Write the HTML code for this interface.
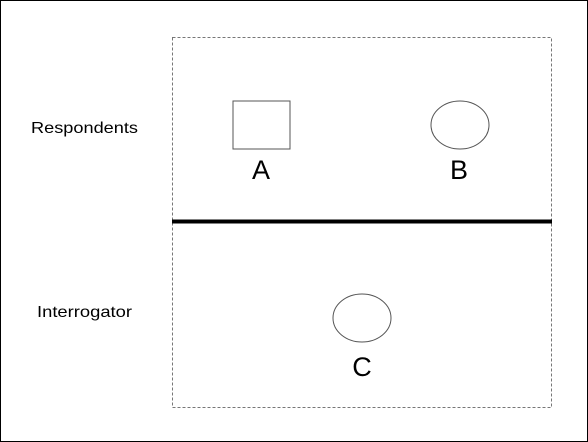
<!DOCTYPE html>
<html><head><meta charset="utf-8"><style>
html,body{margin:0;padding:0;background:#fff}
svg{display:block}
text{font-family:"Liberation Sans",sans-serif;fill:#000}
</style></head><body>
<svg width="588" height="442" viewBox="0 0 588 442">
<rect x="0.5" y="0.5" width="587" height="441" fill="#fff" stroke="#000" stroke-width="1"/>
<rect x="172.5" y="37.5" width="379" height="370" fill="none" stroke="#777" stroke-width="1" stroke-dasharray="3,2"/>
<line x1="172" y1="221.5" x2="552" y2="221.5" stroke="#000" stroke-width="4"/>
<text x="31" y="133" font-size="16" textLength="107" lengthAdjust="spacingAndGlyphs">Respondents</text>
<text x="37" y="317" font-size="16" textLength="95" lengthAdjust="spacingAndGlyphs">Interrogator</text>
<rect x="233" y="101" width="57" height="48" fill="#fff" stroke="#555" stroke-width="1"/>
<text x="261" y="179" font-size="27" text-anchor="middle">A</text>
<ellipse cx="460" cy="125" rx="29" ry="24" fill="#fff" stroke="#555" stroke-width="1"/>
<text x="459" y="179" font-size="27" text-anchor="middle">B</text>
<ellipse cx="362" cy="318" rx="29" ry="24" fill="#fff" stroke="#555" stroke-width="1"/>
<text x="362" y="376" font-size="27" text-anchor="middle">C</text>
</svg>
</body></html>
